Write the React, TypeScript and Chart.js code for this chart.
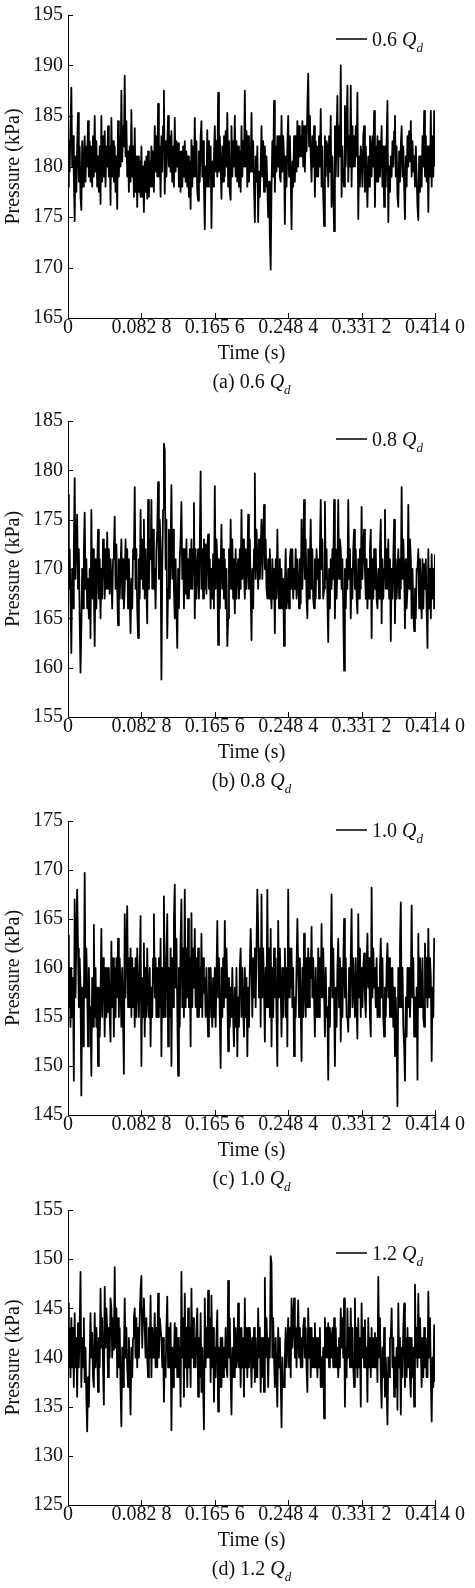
import React, { useEffect, useRef } from "react";
import { Chart, registerables } from "chart.js";

Chart.register(...registerables);

// ---------------- DATA ----------------
const xTickValues = [0, 0.0828, 0.1656, 0.2484, 0.3312, 0.414];
const xTickLabels = ["0", "0.082 8", "0.165 6", "0.248 4", "0.331 2", "0.414 0"];
const timeEnd = 0.414;

const flowLabels = ["0.6", "0.8", "1.0", "1.2"];
const panelLetters = ["(a)", "(b)", "(c)", "(d)"];
const yMins = [165, 155, 145, 125];
const yMaxs = [195, 185, 175, 155];
const yStep = 5;

const pressure06 = [
  178, 182.5, 179.5, 184, 187.8, 180, 183, 179, 174.6, 181, 177.5, 182, 185.3, 178.5, 182, 177, 175.7, 182.5, 178, 181,
  183, 178.5, 182, 180, 184.5, 179, 182.5, 178.5, 182, 178, 183, 179, 185, 179.5, 182.5, 178, 181, 177.5, 182, 176.3,
  185, 178.5, 183, 179, 183.5, 178, 182, 180, 184, 179, 182, 176.2, 184.8, 179, 182.5, 178.5, 182, 177.5, 181, 175.8,
  184.5, 179, 183, 180, 187.5, 180.5, 184, 182, 189, 181, 184.5, 179, 181.5, 177.5, 182, 178.5, 185.6, 179, 182, 177,
  183.8, 177.5, 181, 176, 181, 177.5, 180.5, 177, 182, 177, 180, 175.5, 180.5, 177.5, 181, 176.8, 181.5, 177, 180.5, 178,
  182, 178, 181.5, 177.5, 184, 179.5, 183, 179, 186.2, 179, 182, 177, 183, 179.5, 184, 187.5, 177.3, 182.5, 179, 182,
  185, 180, 183, 179.5, 183.5, 178.5, 182, 178, 184.8, 179.5, 182.5, 180, 182.3, 178, 181.5, 177.5, 181.5, 178, 182, 179,
  182.5, 178.5, 181.5, 178, 181, 177, 180.5, 175.8, 182.6, 178, 182, 179, 184.8, 179, 182.5, 177.5, 176.6, 181.5, 178.5, 183,
  184.5, 179, 182.5, 178, 173.8, 180, 178, 183.6, 178, 182.5, 179, 182, 173.9, 180.5, 178, 181, 184, 179.5, 182.5, 179,
  187.3, 179.5, 183, 180, 176.8, 182, 178.5, 183, 179, 183.5, 180, 185.3, 178, 182.5, 177.5, 176.7, 184, 179, 182.5, 180,
  185, 179, 182.5, 178.5, 182, 178, 181.5, 177.5, 184, 179, 182.5, 180, 187.5, 180, 183.5, 178, 183, 178.5, 182, 179.5,
  185.3, 179.5, 182.5, 178, 174.5, 181, 178.5, 182, 174.5, 179.5, 177, 180, 184, 179, 182.5, 177.5, 182, 178, 181, 178,
  175, 178.5, 173, 169.8, 178, 182.5, 179, 186.5, 177.5, 182, 179.5, 183, 180, 183, 179, 178.5, 185, 179.5, 183, 181,
  174.3, 181, 178, 182, 185, 179, 183, 179, 173.8, 180.5, 178, 183, 178.5, 183, 179.5, 184.5, 180, 184, 181, 183,
  181, 184.5, 180, 184, 179.5, 184, 181.5, 186, 189.2, 182, 185, 181, 178.5, 183, 180, 184, 177, 182.5, 179, 182,
  179, 183, 180, 185.7, 178, 182, 177, 174.1, 183, 179, 182.5, 182, 178, 183, 179.5, 185, 176, 181, 178, 173.6,
  184, 179, 183, 187, 179, 184, 181, 190, 177, 182, 179, 178, 186, 180, 184, 188, 178.5, 183, 180, 188,
  178, 184, 180, 183, 180, 184, 181, 187.3, 174.8, 181, 178, 182, 181, 178, 183, 184, 177.5, 182, 179, 176,
  181, 178, 183, 182, 179, 183, 180, 185.5, 176, 182, 178.5, 183, 178.5, 182.5, 179, 181, 184, 178, 182, 176,
  182, 178, 182.5, 186.5, 174.5, 180, 177.5, 181, 179, 182.5, 180, 183.5, 185, 179, 182, 177, 176, 181.5, 178.5, 182,
  184, 179, 182, 178, 174.8, 181, 178, 183, 180, 183.5, 180.5, 184.5, 179, 182.5, 179.5, 181, 178, 182, 179, 176,
  174.7, 181, 177.5, 181, 178, 183, 180, 185.5, 179, 183, 178.5, 182, 175.5, 182, 179, 185.5, 178, 183, 179, 185.5, 180,
];

const pressure08 = [
  177.5, 168, 172, 167, 161.5, 170, 166, 172, 179.2, 169, 173, 175.5, 168, 172, 165, 159.5, 164, 170, 166, 172,
  175.7, 168, 171, 166, 169, 165, 170, 163, 176, 167, 172, 168, 162.2, 171, 166, 170, 174, 167, 171, 165,
  170, 167, 173, 172, 167, 172, 168, 173.7, 168, 172, 167.5, 171, 169, 166, 171, 172, 175.3, 168, 172.5, 168,
  164.3, 171, 167, 170, 173, 167, 171, 166, 168, 173, 169, 172, 166, 171, 167, 163.5, 169, 166, 172, 171,
  178.3, 168, 172, 166, 163, 171, 167, 176, 169, 173, 168, 175, 167, 172, 168, 164.5, 177, 168, 173, 171,
  177, 168, 174, 168, 170, 166, 172, 174, 178.8, 169, 175, 172, 158.8, 170, 176, 182.7, 182, 170, 175, 163,
  168, 174, 167, 172, 178.5, 169, 174, 168, 165, 171, 166, 162, 170, 166, 171, 173, 176.8, 169, 172, 166,
  172, 167.5, 173, 167, 171, 167, 172, 168, 173, 168, 172, 176.7, 165, 172, 167, 170, 172, 167, 172.5, 179.9,
  168, 172, 167, 173, 168, 172.5, 167.5, 172, 173.5, 168, 171, 166, 170, 167, 171.5, 166, 178.4, 168, 173, 171,
  162.3, 171, 166, 170, 174.5, 168, 172, 167, 171, 166, 170, 162.2, 165, 172, 168, 175, 168, 173, 167, 171,
  165.5, 172, 167, 170, 171, 167, 172, 168, 176, 169, 173, 170, 167, 172, 168, 170, 175.5, 168, 173, 168,
  162.8, 170, 166, 172, 179.7, 169, 174, 171, 168, 173, 169, 172, 175, 169, 173, 176.5, 170, 173, 168, 167,
  171, 167, 172, 168, 166, 171, 167, 170, 163.5, 171, 167, 174, 169, 166, 171, 166, 170, 166, 169, 162.2,
  168, 172, 166, 167, 170, 166, 171, 172, 168, 172, 167, 170, 168, 172, 167, 171, 169, 166, 171, 166.5,
  175, 168, 172, 177, 169, 173, 167, 165, 172, 167, 171, 175, 168, 172, 167, 166, 171, 167, 172, 169,
  171, 167, 172, 177, 170, 173, 167, 168, 176.8, 169, 172, 167, 162.6, 170, 166, 171, 168, 172, 169, 177,
  165, 172, 167, 170, 177, 169, 173, 172, 168, 171, 166, 159.7, 170, 166, 171, 168, 177, 169, 172, 165,
  170, 167, 172, 174, 168, 172, 167, 165.5, 171, 167, 172, 168, 176.3, 169, 172, 174, 170, 167, 171, 166,
  170, 167, 172, 174, 163, 171, 167, 172, 168, 172, 167, 166, 170, 167, 172, 175, 164.5, 171, 167, 170,
  176, 168, 172, 168, 173, 167, 171, 162.7, 170, 167, 171, 175, 164.5, 171, 167, 169, 172, 167, 171, 168,
  178.3, 169, 173, 170, 164, 171, 166, 168, 176.5, 168, 173, 171, 165, 170, 166, 163.7, 168, 165, 170, 170,
  172, 166, 171, 168, 165, 171, 166, 170.5, 168, 171, 166, 162, 172, 166, 170, 165, 171.5, 167, 170, 166, 171.5,
];

const pressure10 = [
  163.3, 156, 160, 154, 160, 155, 159, 148.5, 167, 157, 163, 168, 162, 156, 161, 158, 147, 158, 152, 155,
  169.7, 157, 162, 158, 152, 160, 155, 156, 149, 159, 154, 164.4, 155, 160, 154, 158, 150, 158, 153, 157,
  164, 155, 161, 160, 153, 160, 155, 160, 155.5, 160, 155, 152.5, 162.7, 156, 161, 153, 160, 155, 161, 157,
  163, 155, 161, 158, 154, 160, 155, 149.2, 165.5, 157, 162, 166.3, 156, 161, 156, 162, 155, 161, 156, 160,
  154, 161, 155, 162, 158, 155, 160, 165.3, 150, 159, 155, 162.5, 153, 160, 155, 162, 157, 155, 160, 152,
  158, 155, 161, 165.5, 157, 161, 155, 160, 155, 161, 156, 163, 151, 160, 155, 167.3, 158, 155, 161, 165.5,
  152, 160, 155, 162, 150, 161, 156, 165, 168.5, 158, 163, 156, 149, 160, 154, 163, 167, 156, 162, 155,
  168, 156, 162, 157, 165, 156, 161, 152, 165.6, 156, 162, 158, 164, 156, 161, 155, 162, 155, 160, 156,
  163.5, 155, 161, 157.5, 159, 155, 160, 156, 153, 160, 155, 160, 157, 154, 159, 155, 160, 154, 159, 164.8,
  157, 161, 155, 149.8, 160, 155, 161, 156, 164.8, 157, 162, 158, 151.5, 159, 154, 158, 155, 160, 155, 152,
  158, 154, 160, 151, 157, 154, 160, 162, 155, 160, 156, 153, 160, 155, 159, 151, 158, 154, 160, 164,
  160, 155, 161, 157, 162, 156, 162, 168, 164, 157, 162, 154, 167.5, 157, 162, 158, 152.5, 160, 156, 168,
  156, 162, 155, 164, 152, 160, 155, 162, 157, 161, 155, 150, 164.8, 157, 162, 158, 153, 160, 155, 160,
  162, 155, 160, 152, 168, 157, 162, 158, 162, 156, 160, 151, 157, 155, 160, 165, 160, 155, 161, 156,
  150.5, 160, 155, 163.5, 158, 155, 161, 156, 162, 156, 161, 159, 164.2, 157, 161, 157, 153, 160, 155, 155,
  162, 155, 161, 157, 164.5, 157, 162, 158, 153, 160, 155, 156, 148.6, 158, 154, 160, 167.5, 157, 162, 157,
  150, 158, 154, 160, 163, 156, 161, 152.5, 160, 155, 160, 165, 157, 161, 155, 155, 153.5, 160, 155, 161,
  166, 156, 161, 158, 155, 161, 156, 152.8, 165.5, 157, 162, 155, 160, 156, 160, 161.5, 157, 155, 160, 163.5,
  158, 161, 155, 153, 168.2, 157, 162, 158, 160, 156, 161, 155, 158, 155, 160, 163, 157, 161, 155, 153,
  158, 155, 160, 162.5, 157, 161, 155, 160, 155, 160, 154, 158, 151, 157, 153, 145.9, 160, 156, 162, 166.7,
  156, 160, 154, 152, 148.5, 157, 153, 160, 156, 160, 155, 158, 166.4, 157, 161, 153, 157, 153, 158, 148.6,
  163.5, 156, 161, 158, 156, 161, 155, 154, 162.5, 157, 161, 156, 164, 157, 161, 159, 150.5, 158, 155, 163, 162.8,
];

const pressure12 = [
  145.5, 139, 143, 138, 144, 139, 143, 137, 144.5, 139, 142, 136, 143.5, 139, 143, 148.7, 137, 142, 139, 144,
  137.5, 141, 136, 132.5, 138, 135, 140, 144.5, 140, 142.5, 138, 137, 144.5, 139, 143, 141, 136.5, 142, 139, 147,
  141, 144, 139, 135.2, 147.2, 141, 145, 143, 138, 143, 140, 146, 145, 140, 144, 140.8, 149.2, 141, 145, 138,
  144, 139, 143, 137, 133, 141, 137, 140, 146, 140, 143, 139, 137, 142, 138, 134.2, 141, 138, 142, 144,
  145, 140, 144, 139, 143, 140, 144, 147, 148.3, 141, 145, 146, 143, 140, 144, 140, 138, 143, 140, 146.3,
  138, 143, 140, 141.5, 144.5, 139, 143, 139, 146.5, 140, 144, 143, 142, 139, 142, 135.5, 140, 138, 143, 146.2,
  139, 143, 139, 143.5, 132.6, 141, 137, 140, 143.5, 139, 143, 138, 142, 138, 141, 135, 148.7, 140, 144, 136,
  146.5, 139, 143, 137, 145, 139, 143, 137, 147, 140, 144, 139, 142, 139, 143, 145, 136, 142, 138, 144.5,
  136.5, 141, 137, 132.7, 146, 139, 143, 140, 146.8, 140, 144, 137.5, 146.3, 139, 143, 135.5, 141, 138, 142, 144.8,
  134.5, 141, 137, 142, 137, 142, 138, 141, 139, 143, 139, 138, 147.8, 140, 144, 138, 134.2, 141, 138, 144,
  138, 143, 139, 140, 145.5, 139, 143, 137, 143, 139, 142, 136, 146, 139, 143, 138, 143, 139, 143, 141,
  137, 142, 139, 143, 137.5, 142, 138, 138, 145, 140, 143, 136.5, 142, 138, 142, 136.5, 148.1, 140, 144, 141,
  137, 142, 140, 150.3, 149.6, 140, 144, 140, 137, 142, 138, 135, 143, 139, 142, 138, 132.9, 140, 137, 137,
  140, 143, 139, 141, 144, 139, 143, 138, 146, 141, 144, 146, 140, 143, 139, 142, 145.8, 140, 143, 139,
  142, 139, 143, 144, 140, 143, 139, 136.5, 145, 140, 143, 138, 143, 139, 142, 139, 143.5, 139, 142, 138,
  142, 139, 143, 137, 140, 137, 141, 133.8, 144, 140, 143, 140, 143.5, 139, 143, 142, 140, 143, 139, 144,
  139, 143, 139, 141, 138, 142, 139, 145, 141, 144, 140, 146, 135, 141, 138, 145, 140, 143, 139, 145,
  139, 143, 139, 137, 146, 139, 143, 138, 144, 139, 142, 135, 145.5, 140, 143, 139, 143.8, 139, 141, 135.5,
  144, 139, 142, 138, 143, 139, 142, 139, 142.5, 139, 142, 137.5, 148.2, 140, 144, 138, 134.9, 141, 138, 143,
  136, 140, 137, 133.2, 140, 138, 142, 142, 145, 139, 142, 136, 140, 137, 141, 134.7, 145.5, 139, 142, 134.2,
  141, 138, 143, 145.5, 137, 142, 138, 143, 139, 142, 138, 136, 142, 138, 141, 135, 147.4, 140, 143, 139,
  146.5, 140, 144, 141, 137, 142, 138, 143, 139, 142, 138, 138, 146.7, 140, 144, 138, 133.5, 140, 137, 143.3, 137.5,
];

const SERIES = [pressure06, pressure08, pressure10, pressure12];

// ---------------- LAYOUT / STYLE ----------------
const FONT = "'Liberation Serif', 'Times New Roman', Times, serif";
const TEXT = "#111";
const PAGE_W = 475;
const PAD_TOP = 15;
const PAD_RIGHT = 40;
const PAD_BOTTOM = 30;
const Y_AXIS_W = 68;
const X_AXIS_H = 48;
const LAYOUT = [
  { top: 15, bottom: 318, legendOffset: 24 },
  { top: 421, bottom: 717, legendOffset: 18 },
  { top: 821, bottom: 1115, legendOffset: 9 },
  { top: 1210, bottom: 1505, legendOffset: 43 },
];

type Part = { t: string; italic?: boolean; size: number; dy?: number };

function drawRich(ctx: CanvasRenderingContext2D, parts: Part[], x: number, y: number, align: "left" | "center") {
  const fontOf = (p: Part) => `${p.italic ? "italic " : ""}${p.size}px ${FONT}`;
  let total = 0;
  const widths = parts.map((p) => {
    ctx.font = fontOf(p);
    const w = ctx.measureText(p.t).width;
    total += w;
    return w;
  });
  let cx = align === "center" ? x - total / 2 : x;
  ctx.textAlign = "left";
  ctx.textBaseline = "alphabetic";
  ctx.fillStyle = TEXT;
  parts.forEach((p, i) => {
    ctx.font = fontOf(p);
    ctx.fillText(p.t, cx, y + (p.dy || 0));
    cx += widths[i];
  });
}

const panelPlugin = {
  id: "panelText",
  afterDraw(chart: any, _args: any, opts: any) {
    const ctx: CanvasRenderingContext2D = chart.ctx;
    const { left, right, bottom, top } = chart.chartArea;
    const xs = chart.scales.x;
    const ys = chart.scales.y;
    ctx.save();
    // inward tick marks
    ctx.strokeStyle = "#000";
    ctx.lineWidth = 1;
    ctx.beginPath();
    xTickValues.forEach((v) => {
      const px = Math.round(xs.getPixelForValue(v)) + 0.5;
      ctx.moveTo(px, bottom);
      ctx.lineTo(px, bottom - 5);
    });
    ys.ticks.forEach((t: any) => {
      const py = Math.round(ys.getPixelForValue(t.value)) + 0.5;
      ctx.moveTo(left, py);
      ctx.lineTo(left + 5, py);
    });
    ctx.stroke();

    // legend
    const ly = top + opts.legendOffset;
    ctx.beginPath();
    ctx.lineWidth = 1.5;
    ctx.moveTo(right - 99, ly);
    ctx.lineTo(right - 68, ly);
    ctx.stroke();
    drawRich(
      ctx,
      [
        { t: opts.flow + " ", size: 20 },
        { t: "Q", italic: true, size: 20 },
        { t: "d", italic: true, size: 13, dy: 6 },
      ],
      right - 63,
      ly + 7,
      "left"
    );

    // caption
    drawRich(
      ctx,
      [
        { t: opts.letter + " " + opts.flow + " ", size: 20 },
        { t: "Q", italic: true, size: 20 },
        { t: "d", italic: true, size: 13, dy: 6 },
      ],
      (left + right) / 2,
      bottom + 70,
      "center"
    );
    ctx.restore();
  },
};

function Panel({ idx }: { idx: number }) {
  const ref = useRef<HTMLCanvasElement>(null);
  const L = LAYOUT[idx];
  const height = PAD_TOP + (L.bottom - L.top) + X_AXIS_H + PAD_BOTTOM;

  useEffect(() => {
    const values = SERIES[idx];
    const dt = timeEnd / (values.length - 1);
    const data = values.map((v, i) => ({ x: i * dt, y: v }));
    const tickFont = { family: FONT, size: 20, lineHeight: 1 };
    const titleFont = { family: FONT, size: 20, lineHeight: 1.2 };
    const chart = new Chart(ref.current as HTMLCanvasElement, {
      type: "line",
      data: {
        datasets: [
          {
            data,
            borderColor: "#000",
            borderWidth: 1.8,
            borderJoinStyle: "round",
            pointRadius: 0,
            tension: 0,
            fill: false,
          },
        ],
      },
      options: {
        responsive: false,
        animation: false,
        events: [],
        layout: { padding: { top: PAD_TOP, left: 0, right: PAD_RIGHT, bottom: PAD_BOTTOM } },
        plugins: {
          legend: { display: false },
          tooltip: { enabled: false },
          panelText: {
            flow: flowLabels[idx],
            letter: panelLetters[idx],
            legendOffset: L.legendOffset,
          },
        } as any,
        scales: {
          x: {
            type: "linear",
            min: 0,
            max: timeEnd,
            afterBuildTicks: (s: any) => {
              s.ticks = xTickValues.map((v) => ({ value: v }));
            },
            afterFit: (s: any) => {
              s.height = X_AXIS_H;
            },
            grid: { display: false, drawTicks: false },
            border: { display: true, color: "#000", width: 1 },
            ticks: {
              autoSkip: false,
              maxRotation: 0,
              minRotation: 0,
              padding: 0,
              color: TEXT,
              font: tickFont,
              callback: (v: any) => {
                const k = xTickValues.indexOf(Number(v));
                return k >= 0 ? xTickLabels[k] : "";
              },
            },
            title: {
              display: true,
              text: "Time (s)",
              color: TEXT,
              font: titleFont,
              padding: { top: 0, bottom: 0 },
            },
          },
          y: {
            type: "linear",
            min: yMins[idx],
            max: yMaxs[idx],
            afterFit: (s: any) => {
              s.width = Y_AXIS_W;
            },
            grid: { display: false, drawTicks: false },
            border: { display: true, color: "#000", width: 1 },
            ticks: {
              stepSize: yStep,
              padding: 5,
              color: TEXT,
              font: tickFont,
            },
            title: {
              display: true,
              text: "Pressure (kPa)",
              color: TEXT,
              font: titleFont,
              padding: { top: 2, bottom: 0 },
            },
          },
        },
      } as any,
      plugins: [panelPlugin as any],
    });
    return () => chart.destroy();
  }, [idx]);

  return (
    <canvas
      ref={ref}
      width={PAGE_W}
      height={height}
      style={{ position: "absolute", left: 0, top: L.top - PAD_TOP, width: PAGE_W, height }}
    />
  );
}

export default function App() {
  return (
    <div style={{ position: "absolute", left: 0, top: 0, width: PAGE_W, height: 1588, background: "#fff" }}>
      {LAYOUT.map((_, i) => (
        <Panel key={i} idx={i} />
      ))}
    </div>
  );
}
